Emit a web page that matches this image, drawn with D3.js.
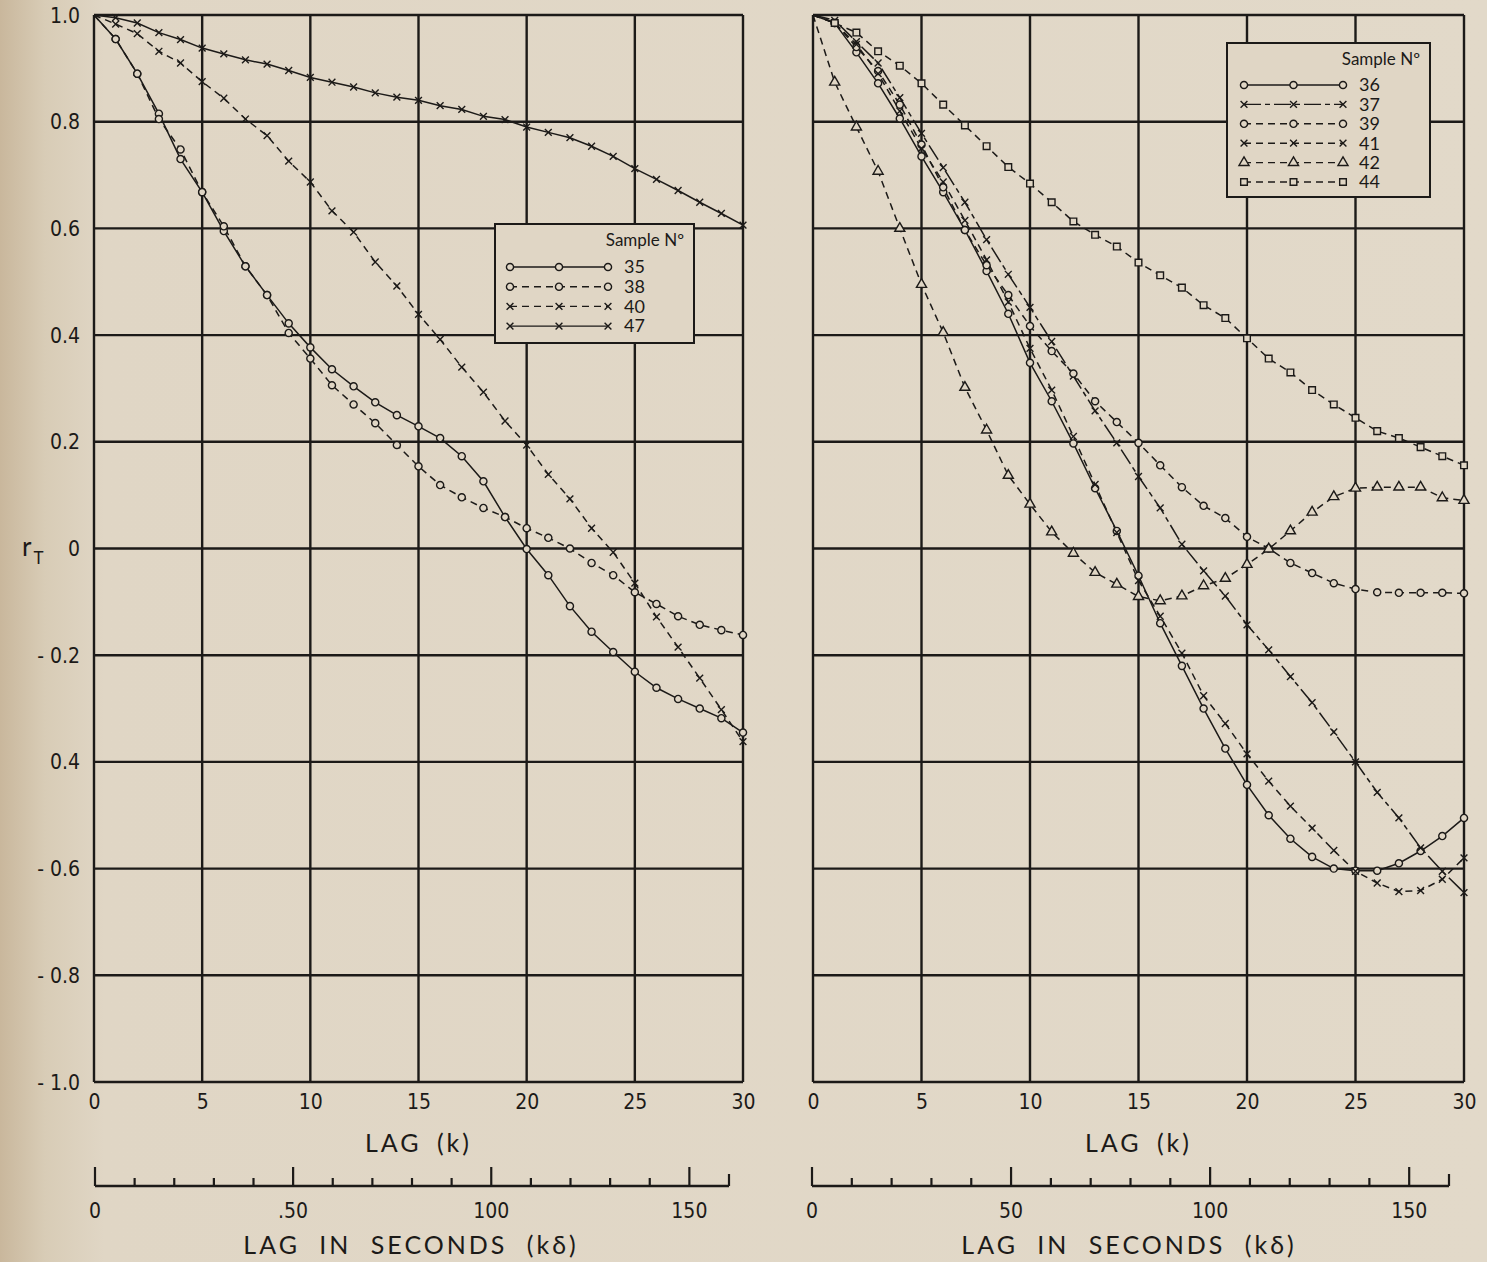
<!DOCTYPE html>
<html>
<head>
<meta charset="utf-8">
<script src="https://cdn.jsdelivr.net/npm/d3@7"></script>
<style>
body { margin: 0; background: #e0d6c5; }
svg { display: block; }
text { fill: #1c1a18; }
.tick-label { font-family: "Liberation Sans Narrow", "DejaVu Sans Condensed", "Lato", sans-serif; }
.title { font-family: "Lato", "DejaVu Sans", sans-serif; font-weight: 400; }
</style>
</head>
<body>
<svg id="chart" width="1487" height="1262"></svg>
<script>
// lag values (k) shared by every curve
var lags = [0, 1, 2, 3, 4, 5, 6, 7, 8, 9, 10, 11, 12, 13, 14, 15, 16, 17, 18, 19, 20,
            21, 22, 23, 24, 25, 26, 27, 28, 29, 30];

// left panel samples
var s35 = [1.0, 0.955, 0.89, 0.815, 0.73, 0.668, 0.595, 0.529, 0.475, 0.422, 0.377, 0.336, 0.304, 0.274, 0.25,
           0.229, 0.207, 0.173, 0.126, 0.059, -0.001, -0.05, -0.108, -0.156, -0.194, -0.231, -0.261, -0.282, -0.30, -0.318, -0.345];
var s38 = [1.0, 0.955, 0.89, 0.805, 0.748, 0.668, 0.604, 0.529, 0.475, 0.404, 0.356, 0.306, 0.27, 0.235, 0.194,
           0.154, 0.119, 0.096, 0.076, 0.059, 0.038, 0.02, 0.0, -0.027, -0.05, -0.082, -0.104, -0.127, -0.143, -0.153, -0.162];
var s40 = [1.0, 0.983, 0.965, 0.932, 0.91, 0.875, 0.844, 0.805, 0.774, 0.726, 0.687, 0.633, 0.593, 0.537, 0.492,
           0.439, 0.392, 0.34, 0.293, 0.239, 0.194, 0.139, 0.093, 0.038, -0.007, -0.065, -0.128, -0.185, -0.243, -0.302, -0.362];
var s47 = [1.0, 0.995, 0.985, 0.967, 0.954, 0.938, 0.927, 0.916, 0.908, 0.896, 0.883, 0.874, 0.865, 0.854, 0.846,
           0.84, 0.83, 0.823, 0.81, 0.804, 0.79, 0.78, 0.77, 0.754, 0.735, 0.712, 0.692, 0.671, 0.649, 0.628, 0.606];

// right panel samples
var s36 = [1.0, 0.985, 0.93, 0.872, 0.806, 0.735, 0.668, 0.597, 0.52, 0.44, 0.348, 0.276, 0.197, 0.113, 0.033,
           -0.051, -0.14, -0.22, -0.30, -0.375, -0.443, -0.50, -0.544, -0.578, -0.60, -0.604, -0.604, -0.59, -0.567, -0.539, -0.505];
var s37 = [1.0, 0.99, 0.95, 0.91, 0.845, 0.778, 0.714, 0.649, 0.579, 0.514, 0.452, 0.388, 0.323, 0.258, 0.198,
           0.135, 0.076, 0.008, -0.042, -0.089, -0.143, -0.19, -0.24, -0.289, -0.344, -0.40, -0.457, -0.505, -0.561, -0.605, -0.645];
var s39 = [1.0, 0.985, 0.94, 0.895, 0.832, 0.757, 0.677, 0.597, 0.531, 0.475, 0.417, 0.37, 0.328, 0.276, 0.237,
           0.198, 0.156, 0.115, 0.08, 0.057, 0.022, 0.0, -0.027, -0.046, -0.065, -0.076, -0.082, -0.083, -0.083, -0.083, -0.084];
var s41 = [1.0, 0.985, 0.945, 0.89, 0.82, 0.75, 0.687, 0.615, 0.541, 0.462, 0.375, 0.297, 0.21, 0.12, 0.03,
           -0.06, -0.127, -0.196, -0.276, -0.328, -0.385, -0.436, -0.483, -0.524, -0.566, -0.605, -0.627, -0.643, -0.641, -0.62, -0.58];
var s42 = [1.0, 0.874, 0.79, 0.707, 0.6, 0.495, 0.405, 0.302, 0.222, 0.137, 0.083, 0.031, -0.009, -0.045, -0.067,
           -0.09, -0.098, -0.089, -0.07, -0.056, -0.03, -0.001, 0.033, 0.068, 0.097, 0.113, 0.115, 0.115, 0.115, 0.095, 0.09];
var s44 = [1.0, 0.985, 0.967, 0.932, 0.905, 0.872, 0.832, 0.793, 0.754, 0.715, 0.684, 0.649, 0.613, 0.588, 0.566,
           0.536, 0.512, 0.489, 0.456, 0.432, 0.394, 0.356, 0.33, 0.297, 0.27, 0.245, 0.22, 0.207, 0.19, 0.173, 0.156];

// axis ticks and labels
var xTicks = [0, 5, 10, 15, 20, 25, 30];
var yTicks = [1.0, 0.8, 0.6, 0.4, 0.2, 0, -0.2, -0.4, -0.6, -0.8, -1.0];
var yTickLabels = ["1.0", "0.8", "0.6", "0.4", "0.2", "0", "- 0.2", "0.4", "- 0.6", "- 0.8", "- 1.0"];
var secTicks = [0, 10, 20, 30, 40, 50, 60, 70, 80, 90, 100, 110, 120, 130, 140, 150, 160];
var secLabelsLeft = ["0", ".50", "100", "150"];
var secLabelsRight = ["0", "50", "100", "150"];
var secLabelValues = [0, 50, 100, 150];

var leftSamples = ["35", "38", "40", "47"];
var rightSamples = ["36", "37", "39", "41", "42", "44"];
var sampleValues = {"35": s35, "38": s38, "40": s40, "47": s47,
                    "36": s36, "37": s37, "39": s39, "41": s41, "42": s42, "44": s44};

// line / marker style per sample
var sampleStyle = {
    "35": {dash: null, mark: "circle"},
    "38": {dash: "7,5", mark: "circle"},
    "40": {dash: "7,5", mark: "x"},
    "47": {dash: null, mark: "x"},
    "36": {dash: null, mark: "circle"},
    "37": {dash: "17,4,5,4", mark: "x"},
    "39": {dash: "7,5", mark: "circle"},
    "41": {dash: "7,5", mark: "x"},
    "42": {dash: "7,5", mark: "triangle"},
    "44": {dash: "7,5", mark: "square"}
};

var paper = "#e0d6c5";
var ink = "#1c1a18";

var svg = d3.select("#chart");

//background with the darker scan shadow on the left edge
var defs = svg.append("defs");
var grad = defs.append("linearGradient").attr("id", "shade")
    .attr("x1", 0).attr("x2", 1).attr("y1", 0).attr("y2", 0);
grad.append("stop").attr("offset", "0%").attr("stop-color", "#c9b79c");
grad.append("stop").attr("offset", "3%").attr("stop-color", "#d8ccb6");
grad.append("stop").attr("offset", "7%").attr("stop-color", paper);
grad.append("stop").attr("offset", "100%").attr("stop-color", "#e2d9c9");
svg.append("rect").attr("width", 1487).attr("height", 1262).attr("fill", "url(#shade)");

var y = d3.scaleLinear().domain([-1, 1]).range([1082, 15]);

function markerPath(kind) {
    if (kind == "circle") return d3.symbol().type(d3.symbolCircle).size(40)();
    if (kind == "triangle") return d3.symbol().type(d3.symbolTriangle).size(44)();
    if (kind == "square") return d3.symbol().type(d3.symbolSquare).size(44)();
    return d3.symbol().type(d3.symbolTimes || d3.symbolX).size(32)();
}

function drawMarker(g, kind, px, py) {
    g.append("path")
        .attr("d", markerPath(kind))
        .attr("transform", "translate(" + px + "," + py + ")")
        .attr("fill", kind == "x" ? "none" : paper)
        .attr("stroke", ink)
        .attr("stroke-width", 1.4);
}

function drawPanel(cfg) {
    var x = d3.scaleLinear().domain([0, 30]).range([cfg.x0, cfg.x1]);
    var g = svg.append("g");

    //grid lines
    g.selectAll(".vgrid").data(xTicks).enter().append("line")
        .attr("x1", function(d) { return x(d); })
        .attr("x2", function(d) { return x(d); })
        .attr("y1", y(1)).attr("y2", y(-1))
        .attr("stroke", ink).attr("stroke-width", 2.4);
    g.selectAll(".hgrid").data(yTicks).enter().append("line")
        .attr("x1", x(0)).attr("x2", x(30))
        .attr("y1", function(d) { return y(d); })
        .attr("y2", function(d) { return y(d); })
        .attr("stroke", ink).attr("stroke-width", 2.4);

    //x tick labels
    var xAxis = d3.axisBottom(x).tickValues(xTicks).tickSize(0).tickPadding(12)
        .tickFormat(function(d) { return d; });
    var ax = g.append("g").attr("transform", "translate(0," + y(-1) + ")").call(xAxis);
    ax.select(".domain").remove();
    ax.selectAll("text").attr("class", "tick-label").attr("font-size", 21).attr("fill", ink);

    //y tick labels only on the left panel
    if (cfg.yLabels) {
        g.selectAll(".ylab").data(yTicks).enter().append("text")
            .attr("class", "tick-label")
            .attr("x", cfg.x0 - 14)
            .attr("y", function(d) { return y(d); })
            .attr("dy", "0.36em")
            .attr("text-anchor", "end")
            .attr("font-size", 21)
            .text(function(d, i) { return yTickLabels[i]; });
        var rt = g.append("text").attr("class", "title").attr("x", 22).attr("y", 556).attr("font-size", 26);
        rt.append("tspan").text("r");
        rt.append("tspan").attr("dx", 2).attr("dy", 8).attr("font-size", 17).text("T");
    }

    //curves
    var line = d3.line()
        .x(function(d) { return x(d[0]); })
        .y(function(d) { return y(d[1]); });
    cfg.samples.forEach(function(key) {
        var vals = sampleValues[key];
        var st = sampleStyle[key];
        var pts = lags.map(function(k, i) { return [k, vals[i]]; });
        g.append("path")
            .attr("d", line(pts))
            .attr("fill", "none")
            .attr("stroke", ink)
            .attr("stroke-width", 1.5)
            .attr("stroke-dasharray", st.dash);
    });
    cfg.samples.forEach(function(key) {
        var vals = sampleValues[key];
        var st = sampleStyle[key];
        lags.forEach(function(k, i) {
            if (k == 0) return;
            drawMarker(g, st.mark, x(k), y(vals[i]));
        });
    });

    //legend
    var lg = cfg.legend;
    g.append("rect")
        .attr("x", lg.x).attr("y", lg.y).attr("width", lg.w).attr("height", lg.h)
        .attr("fill", paper).attr("stroke", ink).attr("stroke-width", 2);
    g.append("text").attr("class", "title")
        .attr("x", lg.x + lg.w - 10).attr("y", lg.y + 22)
        .attr("text-anchor", "end").attr("font-size", 17)
        .text("Sample N\u00ba");
    cfg.samples.forEach(function(key, i) {
        var st = sampleStyle[key];
        var ry = lg.rowY + i * lg.rowStep;
        g.append("line")
            .attr("x1", lg.lx0).attr("x2", lg.lx1).attr("y1", ry).attr("y2", ry)
            .attr("stroke", ink).attr("stroke-width", 1.4)
            .attr("stroke-dasharray", st.dash);
        [lg.lx0, (lg.lx0 + lg.lx1) / 2, lg.lx1].forEach(function(mx) {
            drawMarker(g, st.mark, mx, ry);
        });
        g.append("text").attr("class", "title")
            .attr("x", lg.lx1 + 16).attr("y", ry).attr("dy", "0.35em")
            .attr("font-size", 18).text(key);
    });

    //axis titles
    g.append("text").attr("class", "title")
        .attr("x", x(15)).attr("y", 1152).attr("text-anchor", "middle")
        .attr("font-size", 25).attr("letter-spacing", 3).attr("word-spacing", 6)
        .text("LAG (k)");

    //secondary axis in seconds
    var xs = d3.scaleLinear().domain([0, 160]).range([cfg.s0, cfg.s1]);
    var axisY = 1186;
    g.append("line")
        .attr("x1", xs(0)).attr("x2", xs(160)).attr("y1", axisY).attr("y2", axisY)
        .attr("stroke", ink).attr("stroke-width", 2.4);
    g.selectAll(".stick").data(secTicks).enter().append("line")
        .attr("x1", function(d) { return xs(d); })
        .attr("x2", function(d) { return xs(d); })
        .attr("y1", axisY)
        .attr("y2", function(d) {
            if (d % 50 == 0) return axisY - 19;
            if (d == 160) return axisY - 12;
            return axisY - 8;
        })
        .attr("stroke", ink).attr("stroke-width", 2.2);
    g.selectAll(".slab").data(secLabelValues).enter().append("text")
        .attr("class", "tick-label")
        .attr("x", function(d) { return xs(d); })
        .attr("y", 1218)
        .attr("text-anchor", "middle")
        .attr("font-size", 21)
        .text(function(d, i) { return cfg.secLabels[i]; });
    g.append("text").attr("class", "title")
        .attr("x", cfg.secTitleX).attr("y", 1254).attr("text-anchor", "middle")
        .attr("font-size", 25).attr("letter-spacing", 3).attr("word-spacing", 10)
        .text("LAG IN SECONDS (k\u03b4)");
}

drawPanel({
    x0: 94, x1: 743, s0: 95, s1: 729,
    yLabels: true,
    samples: leftSamples,
    secLabels: secLabelsLeft,
    secTitleX: 411,
    legend: {x: 495, y: 224, w: 199, h: 119, rowY: 267, rowStep: 19.7, lx0: 510, lx1: 608}
});

drawPanel({
    x0: 813, x1: 1464, s0: 812, s1: 1449,
    yLabels: false,
    samples: rightSamples,
    secLabels: secLabelsRight,
    secTitleX: 1129,
    legend: {x: 1227, y: 43, w: 203, h: 154, rowY: 85, rowStep: 19.4, lx0: 1244, lx1: 1343}
});
</script>
</body>
</html>
